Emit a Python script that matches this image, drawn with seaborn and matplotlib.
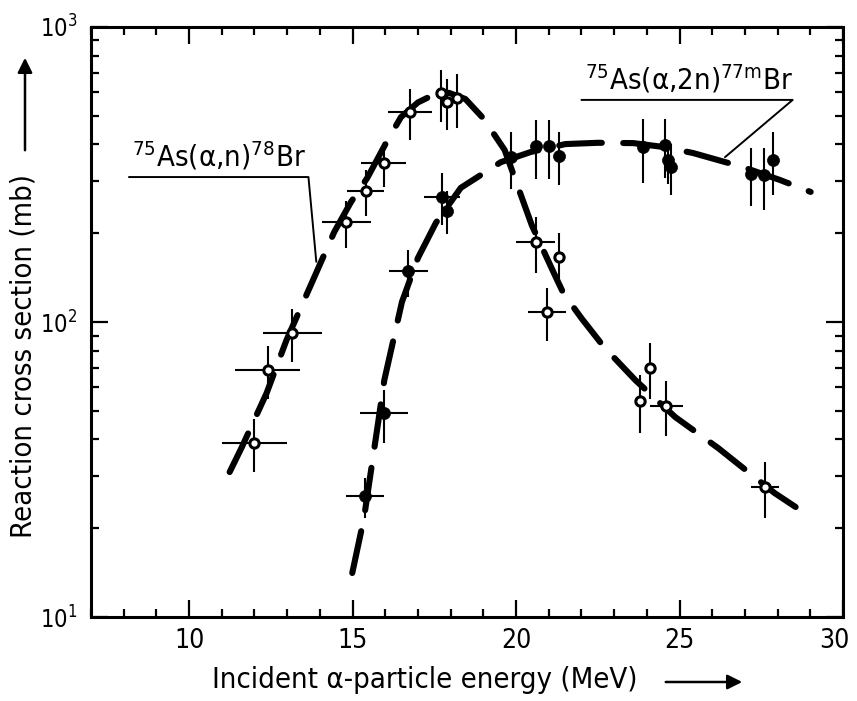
import matplotlib
matplotlib.use("Agg")
import matplotlib.pyplot as plt
import matplotlib.transforms as mtransforms
import numpy as np
import pandas as pd
import seaborn as sns
from matplotlib.ticker import FixedLocator, LogLocator, MultipleLocator, NullFormatter

# --- 75As(alpha,n)78Br : measured points (open circles) ---
an_energy = [12.0, 12.4, 13.15, 14.8, 15.4, 15.95, 16.75, 17.7, 17.9, 18.2,
             20.6, 21.3, 20.95, 23.8, 24.1, 24.6, 27.6]
an_sigma = [39, 69, 92, 218, 278, 346, 515, 597, 557, 574,
            187, 166, 108, 54, 70, 52, 27.6]
an_dE = [1.0, 1.0, 0.9, 0.75, 0.56, 0.68, 0.67, 0, 0, 0,
         0.6, 0, 0.58, 0, 0, 0.5, 0.43]
an_dsigma = [8, 14, 19, 40, 50, 60, 100, 120, 110, 120,
             40, 35, 22, 12, 15, 11, 6]

# --- 75As(alpha,2n)77mBr : measured points (filled circles) ---
a2n_energy = [15.38, 15.96, 16.7, 17.73, 17.88, 19.84, 20.6, 21.0, 21.3,
              23.89, 24.56, 24.65, 24.74, 27.18, 27.58, 27.85]
a2n_sigma = [25.7, 49, 149, 266, 238, 362, 395, 395, 366,
             392, 398, 354, 335, 318, 315, 354]
a2n_dE = [0.58, 0.72, 0.6, 0.56, 0, 0, 0, 0, 0,
          0, 0, 0, 0, 0, 0, 0]
a2n_dsigma = [4, 10, 27, 53, 40, 80, 90, 90, 75,
              95, 90, 60, 65, 70, 75, 85]

# --- hand-drawn excitation curves ---
an_curve_E = [11.24, 11.60, 12.37, 12.98, 14.44, 14.95, 15.45, 16.0, 16.48,
              17.0, 17.49, 17.95, 18.45, 19.0, 19.65, 20.48, 21.15, 21.45,
              22.0, 22.7, 23.65, 24.87, 26.18, 27.91, 28.55]
an_curve_sigma = [31.0, 37.4, 57.4, 86.9, 202, 255, 308, 400, 495,
                  555, 590, 598, 570, 490, 383, 213, 147, 125,
                  103, 82, 63.5, 47.6, 37.4, 26.3, 23.6]

a2n_curve_E = [14.99, 15.35, 15.78, 15.97, 16.51, 17.0, 17.55, 18.31, 19.53,
               20.45, 21.51, 22.5, 23.59, 24.5, 25.41, 26.94, 28.07, 29.01]
a2n_curve_sigma = [14.1, 21.7, 45.5, 63.5, 117, 165, 217, 285, 348,
                   377, 401, 405, 404, 392, 374, 335, 303, 276]

x_major = [10, 15, 20, 25, 30]
y_major = [10, 100, 1000]
y_major_labels = ["10$^{1}$", "10$^{2}$", "10$^{3}$"]

label_an = "$^{75}$As(α,n)$^{78}$Br"
label_a2n = "$^{75}$As(α,2n)$^{77\\mathrm{m}}$Br"

sns.set_theme(style="ticks")
plt.rcParams["font.family"] = ["DejaVu Sans"]
plt.rcParams["font.stretch"] = "condensed"
plt.rcParams["mathtext.fontset"] = "dejavusans"
plt.rcParams["text.color"] = "black"

fig = plt.figure(figsize=(8.57, 7.01), dpi=100)
ax = fig.add_axes([0.1062, 0.1198, 0.8775, 0.8417])
ax.set_facecolor("white")

dash = (0, (7, 3.5))
sns.lineplot(x=an_curve_E, y=an_curve_sigma, ax=ax, color="black", lw=4.4,
             linestyle=dash, dash_capstyle="round", sort=False, estimator=None, zorder=1)
sns.lineplot(x=a2n_curve_E, y=a2n_curve_sigma, ax=ax, color="black", lw=4.4,
             linestyle=dash, dash_capstyle="round", sort=False, estimator=None, zorder=1)

ax.errorbar(an_energy, an_sigma, xerr=an_dE, yerr=an_dsigma, fmt="none",
            ecolor="black", elinewidth=1.5, capsize=0, zorder=2)
ax.errorbar(a2n_energy, a2n_sigma, xerr=a2n_dE, yerr=a2n_dsigma, fmt="none",
            ecolor="black", elinewidth=1.5, capsize=0, zorder=2)

df_an = pd.DataFrame({"E": an_energy, "sigma": an_sigma})
df_a2n = pd.DataFrame({"E": a2n_energy, "sigma": a2n_sigma})
sns.scatterplot(data=df_an, x="E", y="sigma", ax=ax, marker="o", s=45,
                facecolor="white", edgecolor="black", linewidth=2.2, zorder=3)
sns.scatterplot(data=df_a2n, x="E", y="sigma", ax=ax, marker="o", s=75,
                color="black", edgecolor="black", linewidth=0.5, zorder=3)

# reaction labels with leader lines
ax.text(8.25, 322, label_an, fontsize=21, ha="left", va="bottom")
ax.plot([8.16, 13.65, 13.89], [310, 310, 160], color="black", lw=1.4, zorder=1)
ax.text(22.1, 585, label_a2n, fontsize=21, ha="left", va="bottom")
ax.plot([22.0, 28.46, 26.39], [566, 566, 362], color="black", lw=1.4, zorder=1)

ax.set_yscale("log")
ax.set_xlim(7, 30)
ax.set_ylim(10, 1000)
ax.xaxis.set_major_locator(FixedLocator(x_major))
ax.xaxis.set_minor_locator(MultipleLocator(1))
ax.yaxis.set_major_locator(FixedLocator(y_major))
ax.yaxis.set_minor_locator(LogLocator(base=10, subs=np.arange(2, 10)))
ax.yaxis.set_minor_formatter(NullFormatter())
ax.set_yticklabels(y_major_labels)
ax.set_xlabel("")
ax.set_ylabel("")

ax.tick_params(which="both", direction="in", top=True, right=True, colors="black", width=1.6)
ax.tick_params(which="major", length=12)
ax.tick_params(which="minor", length=6)
ax.tick_params(axis="x", which="major", labelsize=19, pad=8)
ax.tick_params(axis="y", which="major", labelsize=17, pad=10)
for side in ["left", "right", "top", "bottom"]:
    ax.spines[side].set_visible(True)
    ax.spines[side].set_linewidth(2.2)
    ax.spines[side].set_color("black")

# keep the last energy label inside the canvas
last_label = ax.xaxis.get_major_ticks()[-1].label1
last_label.set_transform(last_label.get_transform()
                         + mtransforms.ScaledTranslation(-6 / 72, 0, fig.dpi_scale_trans))

# axis titles with direction arrows
fig.text(425 / 857, 1 - 680 / 701, "Incident α-particle energy (MeV)", fontsize=21,
         ha="center", va="center")
fig.text(24 / 857, 1 - 356 / 701, "Reaction cross section (mb)", fontsize=21,
         ha="center", va="center", rotation=90)
arrow = dict(arrowstyle="-|>", lw=1.8, color="black", mutation_scale=22)
ax.annotate("", xy=(745 / 857, 1 - 682 / 701), xytext=(663 / 857, 1 - 682 / 701),
            xycoords="figure fraction", textcoords="figure fraction", arrowprops=arrow)
ax.annotate("", xy=(25 / 857, 1 - 55 / 701), xytext=(25 / 857, 1 - 153 / 701),
            xycoords="figure fraction", textcoords="figure fraction", arrowprops=arrow)

fig.savefig("out.png", dpi=100, facecolor="white")
